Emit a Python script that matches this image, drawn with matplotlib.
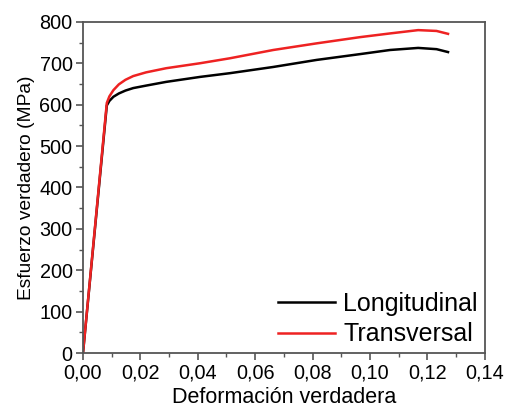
import matplotlib

matplotlib.use("Agg")
import matplotlib.pyplot as plt
from matplotlib.ticker import FuncFormatter, MultipleLocator

# true strain / true stress (MPa)
long_strain = [0.0, 0.0083, 0.0092, 0.0106, 0.0125, 0.0148, 0.0175, 0.022, 0.029, 0.0408,
               0.0512, 0.0663, 0.0814, 0.0965, 0.107, 0.1168, 0.1232, 0.1272]
long_stress = [0, 598, 609, 619, 627, 634, 640, 646, 655, 667,
               676, 691, 708, 722, 732, 737, 734, 727]

trans_strain = [0.0, 0.0083, 0.0092, 0.0106, 0.0125, 0.0148, 0.0175, 0.022, 0.029, 0.0408,
                0.0512, 0.0663, 0.0814, 0.0965, 0.107, 0.1168, 0.1232, 0.1272]
trans_stress = [0, 604, 620, 635, 649, 660, 669, 678, 688, 700,
                712, 732, 748, 763, 772, 780, 778, 771]

x_ticks = [0.00, 0.02, 0.04, 0.06, 0.08, 0.10, 0.12, 0.14]
y_ticks = [0, 100, 200, 300, 400, 500, 600, 700, 800]

plt.rcParams["font.family"] = ["Liberation Sans", "DejaVu Sans"]

fig = plt.figure(figsize=(5.06, 4.12), dpi=100)
ax = fig.add_axes([0.164, 0.143, 0.794, 0.804])

ax.plot(long_strain, long_stress, color="black", lw=1.8, label="Longitudinal")
ax.plot(trans_strain, trans_stress, color="#ee2222", lw=1.8, label="Transversal")

ax.set_xlim(0, 0.14)
ax.set_ylim(0, 800)
ax.set_xticks(x_ticks)
ax.set_yticks(y_ticks)
ax.xaxis.set_minor_locator(MultipleLocator(0.01))
ax.yaxis.set_minor_locator(MultipleLocator(50))
ax.xaxis.set_major_formatter(FuncFormatter(lambda v, p: f"{v:.2f}".replace(".", ",")))

for s in ax.spines.values():
    s.set_color("#555555")
    s.set_linewidth(1.3)
ax.tick_params(which="major", direction="out", length=5, width=1.2, color="#555555",
               labelsize=14.3, top=False, right=False, pad=2.5)
ax.tick_params(which="minor", direction="out", length=3, width=1.0, color="#555555",
               top=False, right=False)

ax.set_xlabel("Deformación verdadera", fontsize=15.5, labelpad=3)
ax.set_ylabel("Esfuerzo verdadero (MPa)", fontsize=13.8, labelpad=3)

ax.legend(loc="lower right", bbox_to_anchor=(1.0, 0.0), frameon=False, fontsize=18,
          handlelength=2.25, handletextpad=0.35, borderaxespad=0.12, borderpad=0.15,
          labelspacing=0.26)

fig.savefig("out.png", dpi=100)
